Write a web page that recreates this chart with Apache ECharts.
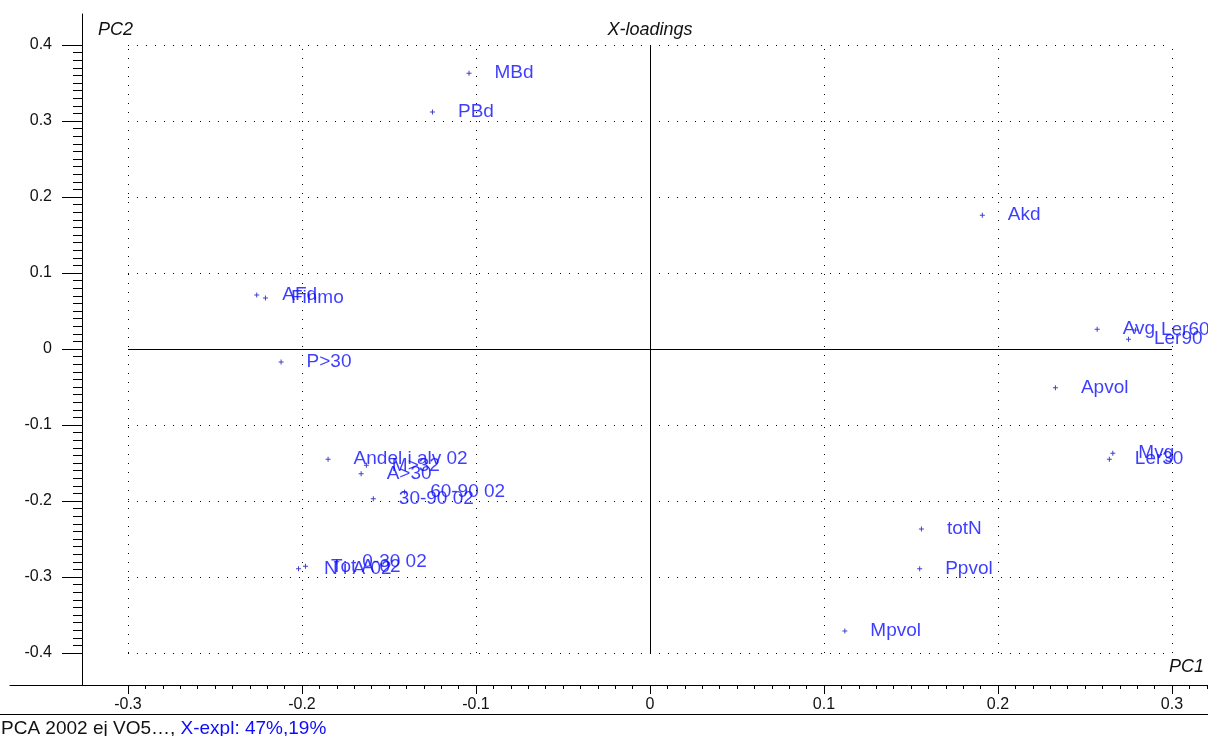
<!DOCTYPE html>
<html>
<head>
<meta charset="utf-8">
<script src="https://cdn.jsdelivr.net/npm/echarts@6/dist/echarts.min.js"></script>
<style>
  html, body { margin: 0; padding: 0; background: #fff; }
  #chart { width: 1208px; height: 736px; }
</style>
</head>
<body>
<div id="chart"></div>
<script>
// loadings (PC1, PC2)
var names = ["MBd", "PBd", "Akd", "AFd", "Finmo", "P>30", "Avg", "Ler60", "Ler90", "Apvol",
  "Mvg", "Ler30", "Andel i alv 02", "M>32", "A>30", "60-90 02", "30-90 02", "totN", "Ppvol",
  "Mpvol", "N i A 02", "Tot A 02", "0-30 02"];
var pc1 = [-0.104, -0.125, 0.191, -0.226, -0.221, -0.212, 0.257, 0.279, 0.275, 0.233,
  0.266, 0.264, -0.185, -0.163, -0.166, -0.141, -0.159, 0.156, 0.155,
  0.112, -0.202, -0.198, -0.180];
var pc2 = [0.363, 0.312, 0.176, 0.071, 0.067, -0.017, 0.026, 0.025, 0.013, -0.051,
  -0.137, -0.145, -0.145, -0.153, -0.164, -0.188, -0.197, -0.237, -0.289,
  -0.371, -0.289, -0.286, -0.280];

var xTicks = [-0.3, -0.2, -0.1, 0, 0.1, 0.2, 0.3];
var yTicks = [-0.4, -0.3, -0.2, -0.1, 0, 0.1, 0.2, 0.3, 0.4];

var xMinor = [];
for (var i = -30; i <= 32; i++) xMinor.push(i / 100);
var yMinor = [];
for (var j = -40; j <= 40; j++) yMinor.push(j / 100);

var points = names.map(function (n, k) {
  return { name: n, value: [pc1[k], pc2[k]] };
});

// dotted grid only inside the tick range
var gridLines = [];
xTicks.forEach(function (x) {
  if (x !== 0) gridLines.push([{ coord: [x, -0.4] }, { coord: [x, 0.4] }]);
});
yTicks.forEach(function (y) {
  if (y !== 0) gridLines.push([{ coord: [-0.3, y] }, { coord: [0.3, y] }]);
});
var crossLines = [
  [{ coord: [-0.3, 0] }, { coord: [0.3, 0] }],
  [{ coord: [0, -0.4] }, { coord: [0, 0.4] }]
];

var FONT = "Liberation Sans";
var BLUE = "#0c0cff";
var X_MIN = -0.3678, X_MAX = 0.3207;
var Y_MIN = -0.4421, Y_MAX = 0.4408;

var myChart = echarts.init(document.getElementById("chart"));

var option = {
  animation: false,
  backgroundColor: "#fff",
  grid: { left: 10, right: 0, top: 14, bottom: 51 },
  xAxis: [
    {
      type: "value", min: X_MIN, max: X_MAX,
      axisLine: { onZero: false, lineStyle: { color: "#000", width: 1 } },
      axisTick: { customValues: xTicks, length: 9, lineStyle: { color: "#000" } },
      axisLabel: { customValues: xTicks, margin: 12, fontSize: 16, color: "#111", fontFamily: FONT },
      splitLine: { show: false }
    },
    {
      type: "value", min: X_MIN, max: X_MAX, position: "bottom",
      axisLine: { show: false, onZero: false },
      axisTick: { customValues: xMinor, length: 4, lineStyle: { color: "#000" } },
      axisLabel: { show: false },
      splitLine: { show: false }
    }
  ],
  yAxis: [
    {
      type: "value", min: Y_MIN, max: Y_MAX, position: "left", offset: -72,
      axisLine: { onZero: false, lineStyle: { color: "#000", width: 1 } },
      axisTick: { customValues: yTicks, length: 20, lineStyle: { color: "#000" } },
      axisLabel: { customValues: yTicks, margin: 30, fontSize: 16, color: "#111", fontFamily: FONT },
      splitLine: { show: false }
    },
    {
      type: "value", min: Y_MIN, max: Y_MAX, position: "left", offset: -72,
      axisLine: { show: false, onZero: false },
      axisTick: { customValues: yMinor, length: 9, lineStyle: { color: "#000" } },
      axisLabel: { show: false },
      splitLine: { show: false }
    }
  ],
  series: [
    {
      type: "line", data: [], silent: true,
      markLine: {
        silent: true, symbol: "none", label: { show: false }, animation: false,
        lineStyle: { color: "#000", width: 1, type: [1, 8] },
        emphasis: { disabled: true },
        data: gridLines
      }
    },
    {
      type: "line", data: [], silent: true,
      markLine: {
        silent: true, symbol: "none", label: { show: false }, animation: false,
        lineStyle: { color: "#000", width: 1, type: "solid" },
        emphasis: { disabled: true },
        data: crossLines
      }
    },
    {
      type: "scatter",
      symbol: "path://M2,0H3V2H5V3H3V5H2V3H0V2H2Z",
      symbolSize: 5,
      itemStyle: { color: "#1010c0" },
      label: {
        show: true, position: "right", distance: 23,
        formatter: "{b}", fontSize: 19, fontFamily: FONT, color: BLUE
      },
      labelLayout: { hideOverlap: false },
      data: points
    }
  ],
  graphic: [
    { type: "line", shape: { x1: 0, y1: 714.5, x2: 1208, y2: 714.5 }, style: { stroke: "#000", lineWidth: 1 } },
    {
      type: "text", x: 1, y: 719,
      style: {
        text: "{a|PCA 2002 ej VO5…, }{b|X-expl: 47%,19%}",
        rich: {
          a: { fontSize: 19, fontFamily: FONT, fill: "#111" },
          b: { fontSize: 19, fontFamily: FONT, fill: BLUE }
        }
      }
    },
    {
      type: "text", x: 650, y: 21,
      style: { text: "X-loadings", fontSize: 18, fontStyle: "italic", fontFamily: FONT, fill: "#111", textAlign: "center" }
    },
    {
      type: "text", x: 98, y: 21,
      style: { text: "PC2", fontSize: 18, fontStyle: "italic", fontFamily: FONT, fill: "#111" }
    },
    {
      type: "text", x: 1204, y: 658,
      style: { text: "PC1", fontSize: 18, fontStyle: "italic", fontFamily: FONT, fill: "#111", textAlign: "right" }
    }
  ]
};

myChart.setOption(option);
window.addEventListener("resize", myChart.resize);
</script>
</body>
</html>
